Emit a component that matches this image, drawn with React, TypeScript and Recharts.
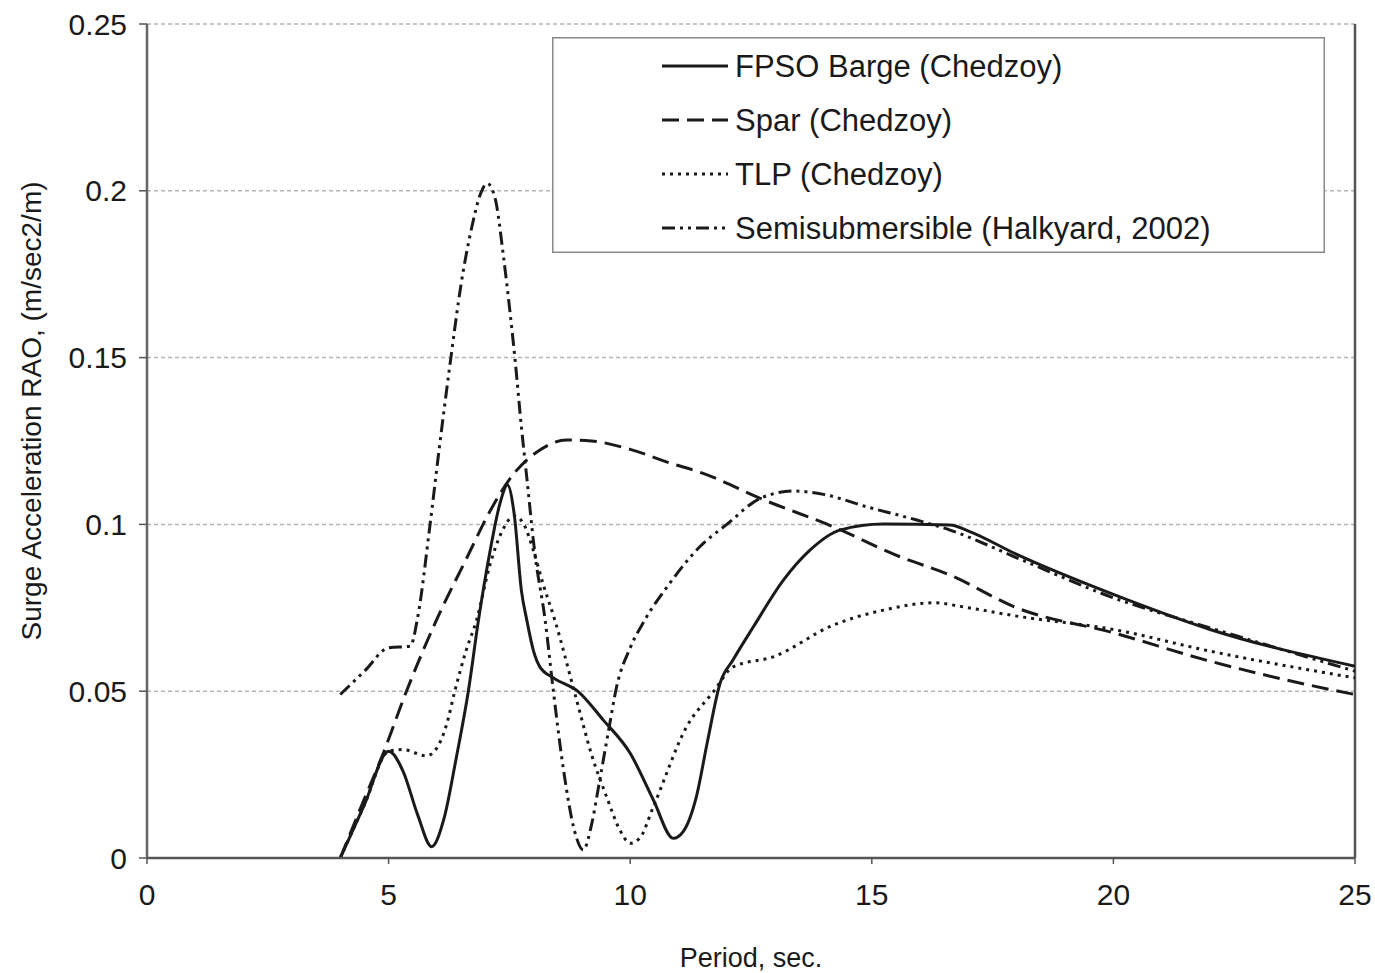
import React from 'react';
import { LineChart, Line, XAxis, YAxis, CartesianGrid, ReferenceLine, Legend } from 'recharts';

// ---- Data ----
const seriesNames = [
  'FPSO Barge (Chedzoy)',
  'Spar (Chedzoy)',
  'TLP (Chedzoy)',
  'Semisubmersible (Halkyard, 2002)',
];

const fpsoPeriod = [4.0, 4.5, 5.0, 5.3, 5.6, 5.89, 6.15, 6.4, 6.65, 6.86, 7.1, 7.3, 7.46, 7.6, 7.75, 7.86, 8.0, 8.13, 8.41, 8.93, 9.44, 10.0, 10.48, 10.89, 11.1, 11.37, 11.6, 11.86, 12.13, 12.55, 13.17, 13.72, 14.34, 15.24, 16.62, 17.0, 18.0, 20.0, 22.0, 25.0];
const fpsoRAO = [0, 0.016, 0.032, 0.026, 0.013, 0.0034, 0.012, 0.03, 0.05, 0.0713, 0.092, 0.106, 0.1118, 0.103, 0.08, 0.0713, 0.062, 0.0573, 0.054, 0.0498, 0.0414, 0.0314, 0.0174, 0.0059, 0.008, 0.0184, 0.035, 0.0524, 0.0594, 0.0693, 0.0833, 0.0923, 0.0983, 0.1001, 0.0998, 0.098, 0.091, 0.079, 0.0685, 0.0575];

const sparPeriod = [4.0, 4.45, 4.89, 5.37, 5.99, 6.62, 7.1, 7.58, 8.1, 8.68, 9.2, 10.0, 10.8, 11.51, 12.69, 14.2, 15.58, 16.62, 18.0, 20.0, 22.0, 24.0, 25.0];
const sparRAO = [0, 0.016, 0.0314, 0.05, 0.0713, 0.09, 0.104, 0.115, 0.122, 0.1253, 0.125, 0.1225, 0.1185, 0.1153, 0.1078, 0.0993, 0.0903, 0.0848, 0.075, 0.0675, 0.059, 0.052, 0.049];

const tlpPeriod = [4.0, 4.5, 5.0, 5.3, 5.78, 6.0, 6.2, 6.37, 6.6, 6.82, 7.1, 7.35, 7.6, 7.8, 8.0, 8.2, 8.44, 8.89, 9.2, 9.51, 9.8, 10.0, 10.2, 10.48, 11.17, 11.72, 12.13, 12.96, 14.2, 15.24, 16.27, 17.0, 18.0, 20.0, 22.0, 24.0, 25.0];
const tlpRAO = [0, 0.016, 0.032, 0.0325, 0.0306, 0.033, 0.04, 0.05, 0.062, 0.0713, 0.088, 0.098, 0.1025, 0.1, 0.092, 0.082, 0.0713, 0.0474, 0.031, 0.0184, 0.008, 0.0044, 0.006, 0.0154, 0.0394, 0.0498, 0.0573, 0.0603, 0.0698, 0.0743, 0.0765, 0.075, 0.0725, 0.0685, 0.062, 0.0565, 0.054];

const semiPeriod = [4.0, 4.5, 5.0, 5.45, 5.6, 5.85, 6.05, 6.28, 6.5, 6.72, 6.9, 7.04, 7.2, 7.38, 7.51, 7.62, 7.75, 7.86, 8.03, 8.24, 8.41, 8.62, 8.85, 9.03, 9.2, 9.37, 9.55, 9.72, 10.0, 10.3, 10.8, 11.44, 12.0, 12.69, 13.38, 14.0, 14.89, 15.93, 16.62, 18.0, 20.0, 22.0, 25.0];
const semiRAO = [0.049, 0.056, 0.063, 0.0635, 0.072, 0.099, 0.123, 0.149, 0.172, 0.189, 0.199, 0.2022, 0.198, 0.18, 0.164, 0.149, 0.129, 0.114, 0.091, 0.0713, 0.05, 0.0264, 0.008, 0.0024, 0.01, 0.0234, 0.038, 0.0514, 0.063, 0.0713, 0.082, 0.0933, 0.1, 0.1078, 0.11, 0.109, 0.1053, 0.1013, 0.0983, 0.09, 0.078, 0.069, 0.056];

const xTicks = [0, 5, 10, 15, 20, 25];
const yTicks = [0, 0.05, 0.1, 0.15, 0.2, 0.25];

const toPoints = (xs: number[], ys: number[]) => xs.map((x, i) => ({ x, y: ys[i] }));

const fpsoData = toPoints(fpsoPeriod, fpsoRAO);
const sparData = toPoints(sparPeriod, sparRAO);
const tlpData = toPoints(tlpPeriod, tlpRAO);
const semiData = toPoints(semiPeriod, semiRAO);

const INK = '#1a1a1a';
const FONT = "'Liberation Sans', Arial, Helvetica, sans-serif";
const SW = 3;
const dashes = [undefined, '17 8', '3 5', '13 5 3 5 3 5'];

const LegendBox = () => (
  <svg width={773} height={216} style={{ display: 'block' }}>
    <rect x={0.75} y={0.75} width={771.5} height={214.5} fill="#fff" stroke="#8a8a8a" strokeWidth={1.5} />
    {seriesNames.map((name, i) => (
      <g key={name}>
        <line x1={110} x2={176} y1={29 + i * 54} y2={29 + i * 54} stroke={INK} strokeWidth={SW} strokeDasharray={dashes[i]} />
        <text x={183} y={29 + i * 54} dominantBaseline="central" fontFamily={FONT} fontSize={31} fill={INK}>
          {name}
        </text>
      </g>
    ))}
  </svg>
);

export default function App() {
  return (
    <div style={{ position: 'absolute', left: 0, top: 0, width: 1375, height: 973, background: '#fff' }}>
      <LineChart width={1375} height={973} margin={{ top: 24, right: 20, left: 0, bottom: 35 }}>
        <CartesianGrid vertical={false} stroke="#b5b5b5" strokeDasharray="4 3" strokeWidth={1.5} />
        <XAxis
          type="number"
          dataKey="x"
          domain={[0, 25]}
          ticks={xTicks}
          height={80}
          tickSize={6}
          tickMargin={20}
          axisLine={{ stroke: '#555', strokeWidth: 2.5 }}
          tickLine={{ stroke: '#555', strokeWidth: 1.5 }}
          tick={{ fontFamily: FONT, fontSize: 30, fill: INK }}
          label={{
            content: () => (
              <text x={751} y={958} textAnchor="middle" dominantBaseline="central" fontFamily={FONT} fontSize={27} fill={INK}>
                Period, sec.
              </text>
            ),
          }}
        />
        <YAxis
          type="number"
          domain={[0, 0.25]}
          ticks={yTicks}
          width={147}
          tickSize={8}
          tickMargin={12}
          axisLine={{ stroke: '#666', strokeWidth: 2.5 }}
          tickLine={{ stroke: '#555', strokeWidth: 1.5 }}
          tick={{ fontFamily: FONT, fontSize: 30, fill: INK }}
          label={{
            content: () => (
              <text x={31} y={411} transform="rotate(-90 31 411)" textAnchor="middle" dominantBaseline="central" fontFamily={FONT} fontSize={28} fill={INK}>
                Surge Acceleration RAO, (m/sec2/m)
              </text>
            ),
          }}
        />
        <ReferenceLine x={25} stroke="#555" strokeWidth={2.5} />
        <Line data={fpsoData} dataKey="y" name={seriesNames[0]} type="monotone" stroke={INK} strokeWidth={SW} dot={false} isAnimationActive={false} />
        <Line data={sparData} dataKey="y" name={seriesNames[1]} type="monotone" stroke={INK} strokeWidth={SW} strokeDasharray={dashes[1]} dot={false} isAnimationActive={false} />
        <Line data={tlpData} dataKey="y" name={seriesNames[2]} type="monotone" stroke={INK} strokeWidth={SW} strokeDasharray={dashes[2]} dot={false} isAnimationActive={false} />
        <Line data={semiData} dataKey="y" name={seriesNames[3]} type="monotone" stroke={INK} strokeWidth={SW} strokeDasharray={dashes[3]} dot={false} isAnimationActive={false} />
        <Legend
          layout="horizontal"
          verticalAlign="middle"
          align="center"
          content={() => <LegendBox />}
          wrapperStyle={{ position: 'absolute', left: 552, top: 37, width: 773, height: 216, margin: 0, padding: 0 }}
        />
      </LineChart>
    </div>
  );
}
